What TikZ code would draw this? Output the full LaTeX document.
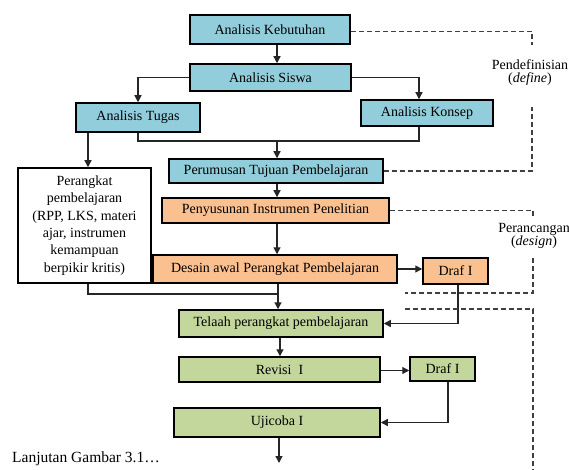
\documentclass[tikz,border=0pt]{standalone}
\usepackage{fontspec}
\setmainfont{Liberation Serif}
\usetikzlibrary{arrows.meta}
\definecolor{cblue}{HTML}{92CDDC}
\definecolor{corange}{HTML}{FAC090}
\definecolor{cgreen}{HTML}{C3D69B}
\begin{document}
\begin{tikzpicture}[x=1pt,y=-1pt,
  box/.style={draw=black, line width=1.5pt, inner sep=0pt, anchor=center,
    font=\fontsize{14}{16}\selectfont},
  bluebox/.style={box, fill=cblue},
  orangebox/.style={box, fill=corange},
  greenbox/.style={box, fill=cgreen},
  conn/.style={line width=1.3pt, draw=black!85},
  arr/.style={conn, -{Triangle[length=7pt,width=7pt]}},
  dline/.style={line width=1.2pt, draw=black!75, dash pattern=on 5pt off 3pt},
  lbl/.style={inner sep=0pt, align=center, font=\fontsize{14}{13}\selectfont}]
\useasboundingbox (0,0) rectangle (569,470);
% nodes
\node[bluebox, minimum width=160pt, minimum height=29pt] (keb) at (270,29.5) {Analisis Kebutuhan};
\node[bluebox, minimum width=161pt, minimum height=27pt] (sis) at (270.5,77.5) {Analisis Siswa};
\node[bluebox, minimum width=124pt, minimum height=29pt] (tug) at (138,117.5) {Analisis Tugas};
\node[bluebox, minimum width=132pt, minimum height=26pt] (kon) at (427,113) {Analisis Konsep};
\node[bluebox, minimum width=214pt, minimum height=24pt] (per) at (276,171) {Perumusan Tujuan Pembelajaran};
\node[orangebox, minimum width=227pt, minimum height=25pt] (pen) at (275.5,210.5) {Penyusunan Instrumen Penelitian};
\node[box, fill=white, minimum width=133pt, minimum height=115pt, align=center,
  font=\fontsize{14}{17.4}\selectfont] (pkt) at (84.5,225.5)
  {Perangkat\\pembelajaran\\(RPP, LKS, materi\\ajar, instrumen\\kemampuan\\berpikir kritis)};
\node[orangebox, minimum width=244pt, minimum height=28pt] (des) at (275,269) {Desain awal Perangkat Pembelajaran};
\node[orangebox, minimum width=65pt, minimum height=26pt] (dr1) at (455.5,271) {Draf I};
\node[greenbox, minimum width=204pt, minimum height=27pt] (tel) at (281,323.5) {Telaah perangkat pembelajaran};
\node[greenbox, minimum width=201pt, minimum height=25pt] (rev) at (279.5,369.5) {Revisi~~I};
\node[greenbox, minimum width=65pt, minimum height=24pt] (dr2) at (442.5,369) {Draf I};
\node[greenbox, minimum width=206pt, minimum height=29pt] (uji) at (277,422.5) {Ujicoba I};
\node[lbl] (ldef) at (530,73) {Pendefinisian\\(\textit{define})};
\node[lbl] (ldes) at (534,236) {Perancangan\\(\textit{design})};
\node[inner sep=0pt, anchor=west, font=\fontsize{15.5}{17}\selectfont] (lanj) at (12,459) {Lanjutan Gambar 3.1…};
% helper coordinates
\coordinate (mx) at (277,0);
\coordinate (jA) at (277,141);
\coordinate (jB) at (278,294);
\coordinate (endA) at (279,463);
% solid connectors
\draw[arr] (keb.south -| mx) -- (sis.north -| mx);
\draw[arr] (sis.west) -| (tug.north);
\draw[arr] (sis.east) -| ([xshift=-8pt]kon.north);
\draw[conn] (tug.south) |- (jA) -| ([xshift=-8pt]kon.south);
\draw[arr] (jA) -- (per.north -| jA);
\draw[arr] ([xshift=-50pt]tug.south) -- ([xshift=-50pt]tug.south |- pkt.north);
\draw[arr] (per.south -| mx) -- (pen.north -| mx);
\draw[arr] (pen.south -| mx) -- (des.north -| mx);
\draw[conn] ([xshift=3.5pt]pkt.south) |- (jB);
\draw[arr] (des.south -| jB) -- (tel.north -| jB);
\draw[arr] (des.east) -- (dr1.west |- des.east);
\draw[arr] ([xshift=2.5pt]dr1.south) |- (tel.east);
\draw[arr] ([xshift=-1pt]tel.south) -- ([xshift=-1pt]tel.south |- rev.north);
\draw[arr] ([yshift=-1pt]rev.east) -- ([yshift=-1pt]rev.east -| dr2.west);
\draw[arr] ([xshift=5.5pt]dr2.south) |- (uji.east);
\draw[arr] (uji.south -| endA) -- (endA);
% dashed phase brackets
\coordinate (d1) at (532,45);
\coordinate (d2) at (532,107);
\coordinate (d3) at (533,216);
\coordinate (d4) at (533,258);
\coordinate (d5) at (405,293);
\coordinate (d6) at (405,309);
\coordinate (d7) at (533,470);
\draw[dline] ([yshift=-2pt]keb.east) -| (d1);
\draw[dline] (per.east) -| (d2);
\draw[dline] (pen.east) -| (d3);
\draw[dline] (d4) |- (d5);
\draw[dline] (d6) -| (d7);
\end{tikzpicture}
\end{document}
